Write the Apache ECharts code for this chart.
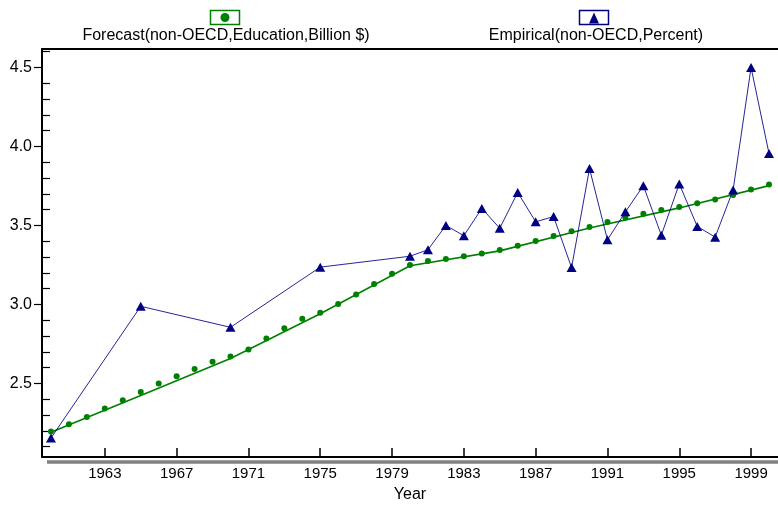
<!DOCTYPE html>
<html>
<head>
<meta charset="utf-8">
<script src="https://cdn.jsdelivr.net/npm/echarts@6/dist/echarts.min.js"></script>
<style>
html,body{margin:0;padding:0;background:#fff;}
#chart{width:778px;height:508px;}
</style>
</head>
<body>
<div id="chart"></div>
<script>
var years = ['1960','1961','1962','1963','1964','1965','1966','1967','1968','1969',
  '1970','1971','1972','1973','1974','1975','1976','1977','1978','1979',
  '1980','1981','1982','1983','1984','1985','1986','1987','1988','1989',
  '1990','1991','1992','1993','1994','1995','1996','1997','1998','1999','2000'];

var forecast = [2.196,2.242,2.288,2.341,2.393,2.446,2.499,2.545,2.591,2.637,
  2.671,2.714,2.784,2.849,2.910,2.948,3.003,3.063,3.129,3.194,
  3.250,3.275,3.288,3.305,3.322,3.345,3.372,3.402,3.433,3.463,
  3.490,3.521,3.549,3.574,3.597,3.616,3.641,3.664,3.693,3.727,3.759];

var forecastTrend = [2.19,null,null,null,null,2.424,null,null,null,null,
  2.658,null,null,null,null,2.941,null,null,null,null,
  3.245,null,null,null,null,3.339,null,null,null,null,
  3.484,null,null,null,null,3.611,null,null,null,null,3.752];

var empirical = [2.154,null,null,null,null,2.988,null,null,null,null,
  2.855,null,null,null,null,3.236,null,null,null,null,
  3.305,3.346,3.500,3.435,3.608,3.482,3.709,3.523,3.556,3.233,
  3.860,3.409,3.586,3.752,3.438,3.763,3.494,3.426,3.725,4.500,3.955];

var xTickLabels = ['1963','1967','1971','1975','1979','1983','1987','1991','1995','1999'];

var legendNames = ['Forecast(non-OECD,Education,Billion $)', 'Empirical(non-OECD,Percent)'];

var FONT = '"Liberation Sans", Arial, sans-serif';
var GREEN = '#008000';
var NAVY = '#000080';

function showYear(idx, val) { return xTickLabels.indexOf(String(val)) >= 0; }

var chart = echarts.init(document.getElementById('chart'), null, {renderer: 'canvas'});
var yMin = 2.034, yMax = 4.617;

chart.setOption({
  animation: false,
  backgroundColor: '#ffffff',
  grid: {left: 42, top: 49, right: -2, bottom: 49, show: false},
  xAxis: [{
    type: 'category',
    data: years,
    boundaryGap: true,
    name: 'Year',
    nameLocation: 'middle',
    nameGap: 30,
    nameTextStyle: {fontFamily: FONT, fontSize: 16, color: '#000'},
    axisLine: {show: true, onZero: false, lineStyle: {color: '#000', width: 2}},
    axisTick: {show: true, inside: true, length: 9, alignWithLabel: true, interval: showYear,
      lineStyle: {color: '#000', width: 1.5}},
    axisLabel: {interval: showYear, margin: 9, fontFamily: FONT, fontSize: 15, color: '#000'},
    splitLine: {show: false}
  }, {
    type: 'category',
    data: years,
    position: 'top',
    axisLine: {show: true, onZero: false, lineStyle: {color: '#000', width: 2}},
    axisTick: {show: false},
    axisLabel: {show: false},
    splitLine: {show: false}
  }],
  yAxis: [{
    type: 'value',
    min: yMin, max: yMax,
    splitNumber: 5,
    axisLine: {show: true, onZero: false, lineStyle: {color: '#000', width: 2}},
    axisTick: {show: true, inside: false, length: 8, lineStyle: {color: '#000', width: 1.2}},
    axisLabel: {showMinLabel: false, showMaxLabel: false, margin: 10, fontFamily: FONT, fontSize: 16, color: '#000',
      formatter: function (v) { return v.toFixed(1); }},
    splitLine: {show: false}
  }, {
    type: 'value',
    position: 'left',
    min: yMin, max: yMax,
    splitNumber: 5,
    axisLine: {show: false},
    axisTick: {show: false, inside: true},
    minorTick: {show: true, splitNumber: 5, length: 8, lineStyle: {color: '#000', width: 1.2}},
    axisLabel: {show: false},
    splitLine: {show: false}
  }],
  graphic: [
    {type: 'rect', shape: {x: 47, y: 460.3, width: 740, height: 3.4}, style: {fill: '#808080'}, z: 1},
    {type: 'rect', shape: {x: 210.5, y: 10.5, width: 29, height: 14}, style: {fill: '#fff', stroke: GREEN, lineWidth: 1.5}},
    {type: 'circle', shape: {cx: 225, cy: 17.5, r: 4.5}, style: {fill: GREEN}},
    {type: 'text', x: 226, y: 36, style: {text: legendNames[0], fontFamily: FONT, fontSize: 16, fill: '#000', align: 'center', verticalAlign: 'middle'}},
    {type: 'rect', shape: {x: 579.5, y: 10.5, width: 29, height: 14}, style: {fill: '#fff', stroke: NAVY, lineWidth: 1.5}},
    {type: 'polygon', shape: {points: [[594, 12.5], [599, 23.5], [589, 23.5]]}, style: {fill: NAVY}},
    {type: 'text', x: 596, y: 36, style: {text: legendNames[1], fontFamily: FONT, fontSize: 16, fill: '#000', align: 'center', verticalAlign: 'middle'}}
  ],
  series: [{
    name: 'trend',
    type: 'line',
    data: forecastTrend,
    connectNulls: true,
    showSymbol: false,
    symbol: 'none',
    lineStyle: {color: GREEN, width: 1.6},
    z: 2
  }, {
    name: legendNames[0],
    type: 'line',
    data: forecast,
    symbol: 'circle',
    symbolSize: 6,
    showAllSymbol: true,
    itemStyle: {color: GREEN},
    lineStyle: {width: 0, opacity: 0},
    z: 3
  }, {
    name: legendNames[1],
    type: 'line',
    data: empirical,
    connectNulls: true,
    symbol: 'triangle',
    symbolSize: [10, 9],
    showAllSymbol: true,
    itemStyle: {color: NAVY},
    lineStyle: {color: NAVY, width: 1, opacity: 0.85},
    z: 4
  }]
});
</script>
</body>
</html>
